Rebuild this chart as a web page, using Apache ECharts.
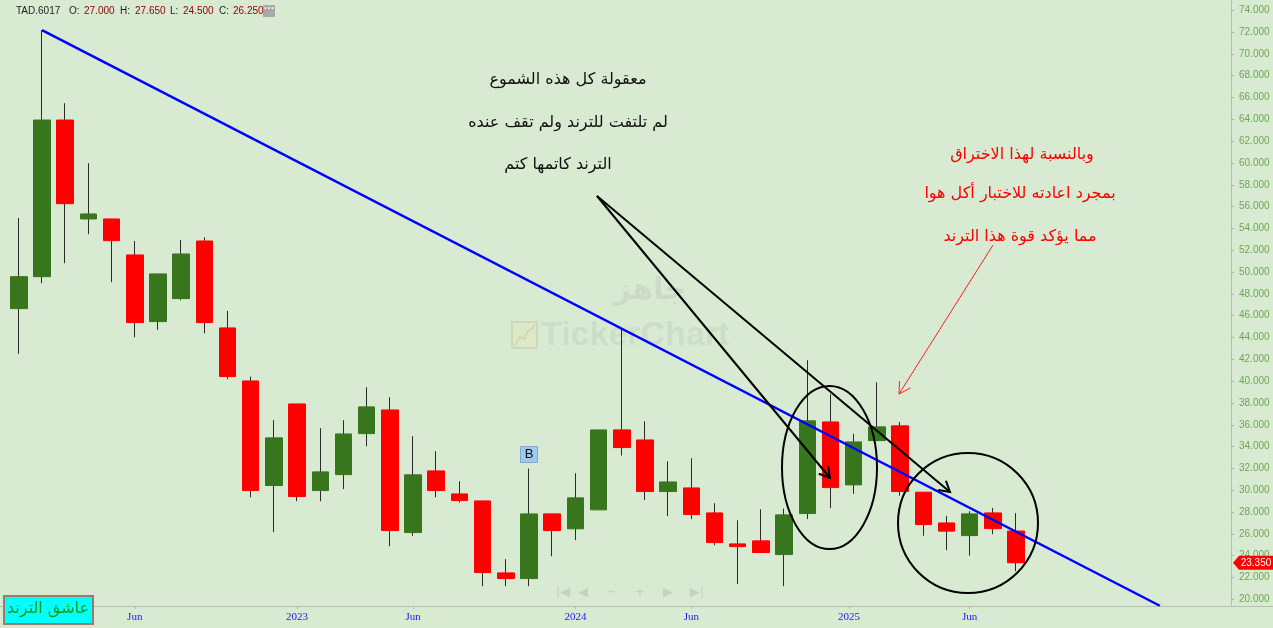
<!DOCTYPE html>
<html>
<head>
<meta charset="utf-8">
<script src="https://cdn.jsdelivr.net/npm/echarts@6/dist/echarts.min.js"></script>
<style>
html,body{margin:0;padding:0;background:#D9EAD3;}
#c{width:1273px;height:628px;}
</style>
</head>
<body>
<div id="c"></div>
<script>
// ---- data (monthly candles, TAD.6017) ----
const months = ['2022-01','2022-02','2022-03','2022-04','2022-05','2022-06','2022-07','2022-08','2022-09','2022-10','2022-11','2022-12',
  '2023-01','2023-02','2023-03','2023-04','2023-05','2023-06','2023-07','2023-08','2023-09','2023-10','2023-11','2023-12',
  '2024-01','2024-02','2024-03','2024-04','2024-05','2024-06','2024-07','2024-08','2024-09','2024-10','2024-11','2024-12',
  '2025-01','2025-02','2025-03','2025-04','2025-05','2025-06','2025-07','2025-08'];
const opens  = [46.65,49.58,63.94,54.87,54.87,51.57,45.46,47.57,52.85,44.88,40.02,30.43,
  37.91,29.97,31.43,35.19,37.36,26.12,31.77,29.66,29.02,22.42,21.90,27.83,
  26.46,28.20,35.53,34.61,29.88,30.21,27.92,25.08,25.36,24.10,27.86,36.26,
  30.49,34.55,35.90,29.82,27.00,25.84,27.92,26.26];
const closes = [49.58,63.94,56.27,55.33,52.88,45.37,49.83,51.66,45.37,40.42,29.97,34.80,
  29.42,31.68,35.16,37.64,26.30,31.41,29.97,29.05,22.45,21.90,27.83,26.30,
  29.30,35.53,33.91,29.88,30.76,27.77,25.20,24.83,24.29,27.74,36.36,30.24,
  34.43,35.81,29.88,26.85,26.25,27.83,26.48,23.35];
const lows   = [42.50,48.98,50.81,53.47,49.07,44.03,44.70,47.42,44.39,40.18,29.36,26.15,
  28.99,28.99,30.10,34.04,24.87,25.82,29.36,28.87,21.20,21.20,21.20,23.95,
  25.42,28.20,33.18,29.09,27.62,27.35,24.96,21.39,24.23,21.20,27.35,28.35,
  29.67,34.50,29.50,25.82,24.50,24.00,25.97,22.58];
const highs  = [54.96,72.19,65.48,59.98,54.87,52.85,49.83,52.95,53.19,46.44,40.42,36.42,
  37.91,35.69,36.42,39.44,38.53,34.95,33.58,30.83,29.02,23.68,31.99,27.83,
  31.56,35.53,44.85,36.33,32.66,32.94,28.81,27.25,28.26,28.32,41.92,38.80,
  35.17,39.90,36.26,29.82,27.65,28.08,28.38,27.90];
const xTickIdx    = [5, 12, 17, 24, 29, 35.8, 41];
const xTickLabels = ['Jun','2023','Jun','2024','Jun','2025','Jun'];
const yTicks = [20,22,24,26,28,30,32,34,36,38,40,42,44,46,48,50,52,54,56,58,60,62,64,66,68,70,72,74];
const trendX = [1, 49.2];
const trendY = [72.19, 19.41];
const lastClose = 23.35;
const header = {sym:'TAD.6017', o:'27.000', h:'27.650', l:'24.500', c:'26.250'};
const signalIdx = 22; // "B" marker candle

// ---- build series ----
const wickData = months.map((m,i)=>[i, opens[i], closes[i], lows[i], highs[i]]);
const bodyData = months.map((m,i)=>[i, opens[i], closes[i], Math.min(opens[i],closes[i]), Math.max(opens[i],closes[i])]);
const trendData = trendX.map((x,i)=>[x, trendY[i]]);

const chart = echarts.init(document.getElementById('c'));
const GREEN = '#38761d', RED = '#ff0000', WICK = '#2b2b2b';

const option = {
  animation:false,
  backgroundColor:'#D9EAD3',
  grid:{left:0, right:42, top:0, bottom:22},
  xAxis:{
    type:'value', min:-0.8107, max:52.27,
    axisLine:{show:true, onZero:false, lineStyle:{color:'#b5bfb2', width:1}},
    splitLine:{show:false},
    axisTick:{show:true, customValues:xTickIdx, length:3, lineStyle:{color:'#b5bfb2'}},
    axisLabel:{customValues:xTickIdx, formatter:v=>{const k=xTickIdx.findIndex(t=>Math.abs(t-v)<0.01);return k>=0?xTickLabels[k]:'';},
      color:'#1a1aff', fontFamily:'Liberation Serif', fontSize:11, margin:6}
  },
  yAxis:{
    type:'value', position:'right', min:19.386, max:74.944,
    axisLine:{show:true, onZero:false, lineStyle:{color:'#b9b9b9'}},
    splitLine:{show:false},
    axisTick:{show:true, customValues:yTicks, length:3, lineStyle:{color:'#b0b0b0'}},
    axisLabel:{customValues:yTicks, formatter:v=>v.toFixed(3), color:'#6aa84f',
      fontFamily:'Liberation Sans', fontSize:10, margin:8}
  },
  series:[
    {type:'candlestick', name:'wick', data:wickData, encode:{x:0,y:[1,2,3,4]}, barWidth:1,
      itemStyle:{color:WICK,color0:WICK,borderColor:WICK,borderColor0:WICK,borderWidth:1}, z:2},
    {type:'candlestick', name:'body', data:bodyData, encode:{x:0,y:[1,2,3,4]}, barWidth:17,
      itemStyle:{color:GREEN,color0:RED,borderColor:GREEN,borderColor0:RED,borderWidth:1}, z:3},
    {type:'line', name:'trend', data:trendData, symbol:'none', lineStyle:{color:'#0000ff', width:2.5}, z:4}
  ]
};
chart.setOption(option);

// ---- annotations (layout) ----
function T(x,y,text,font,fill,align,z){
  return {type:'text', z:z||100, style:{x,y,text,font,fill,
    align:align||'left', textAlign:align||'left', verticalAlign:'middle', textVerticalAlign:'middle'}};
}
function arrow(x1,y1,x2,y2,color,w,L){
  const a=Math.atan2(y2-y1,x2-x1), t=Math.PI/6;
  return [
    {type:'line', z:90, shape:{x1,y1,x2,y2}, style:{stroke:color,lineWidth:w}},
    {type:'polyline', z:90, shape:{points:[[x2-L*Math.cos(a-t),y2-L*Math.sin(a-t)],[x2,y2],[x2-L*Math.cos(a+t),y2-L*Math.sin(a+t)]]},
      style:{stroke:color,lineWidth:w,fill:null}}
  ];
}
const yPx = chart.convertToPixel({gridIndex:0},[0,lastClose])[1];
const bPt = chart.convertToPixel({gridIndex:0},[signalIdx, highs[signalIdx]]);
const AR = "'DejaVu Sans'";
const G = [];
// watermark
G.push(T(650,291,'جاهز',"bold 30px "+AR,'rgba(110,120,110,0.13)','center',1));
G.push({type:'rect', z:1, shape:{x:512,y:322,width:25,height:26}, style:{fill:'rgba(230,230,170,0.3)',stroke:'rgba(120,130,120,0.15)',lineWidth:2}});
G.push({type:'polyline', z:1, shape:{points:[[515,345],[520,337],[524,339],[528,331],[532,329],[535,324]]}, style:{stroke:'rgba(120,130,120,0.18)',lineWidth:1.5,fill:null}});
G.push(T(541,336,'TickerChart',"bold 34px 'Liberation Sans'",'rgba(110,120,110,0.1)','left',1));
// nav controls
[['|◀',563],['◀',583],['−',611],['+',640],['▶',668],['▶|',697]].forEach(([s,x])=>{
  G.push(T(x,593,s,"13px 'DejaVu Sans'",'rgba(150,160,150,0.3)','center',1));
});
// header
const HF = "10px 'Liberation Sans'";
G.push(T(16,11,header.sym,HF,'#222'));
G.push(T(69,11,'O:',HF,'#222'));
G.push(T(84,11,header.o,HF,'#8b0000'));
G.push(T(120,11,'H:',HF,'#222'));
G.push(T(135,11,header.h,HF,'#8b0000'));
G.push(T(170,11,'L:',HF,'#222'));
G.push(T(183,11,header.l,HF,'#8b0000'));
G.push(T(219,11,'C:',HF,'#222'));
G.push(T(233,11,header.c,HF,'#8b0000'));
G.push({type:'rect', z:100, shape:{x:263,y:5,width:12,height:12}, style:{fill:'#a9a9a9'}});
G.push(T(269,9,'···',"bold 9px 'DejaVu Sans'",'#fff','center',101));
// black text
const AF = "16px "+AR;
G.push(T(568,80,'معقولة كل هذه الشموع',AF,'#111','center'));
G.push(T(568,123,'لم تلتفت للترند ولم تقف عنده',AF,'#111','center'));
G.push(T(558,165,'الترند كاتمها كتم',AF,'#111','center'));
// red text
G.push(T(1022,155,'وبالنسبة لهذا الاختراق',AF,'#ff0000','center'));
G.push(T(1020,194,'بمجرد اعادته للاختبار أكل هوا',AF,'#ff0000','center'));
G.push(T(1020,237,'مما يؤكد قوة هذا الترند',AF,'#ff0000','center'));
// arrows
G.push(...arrow(597,196,830,478,'#000',2,12));
G.push(...arrow(597,196,950,492,'#000',2,12));
G.push(...arrow(993,245,899,394,'#ff2020',1,13));
// ellipses
G.push({type:'ellipse', z:90, shape:{cx:829.5,cy:467.5,rx:47.5,ry:81.5}, style:{stroke:'#000',lineWidth:2,fill:null}});
G.push({type:'ellipse', z:90, shape:{cx:968,cy:523,rx:70,ry:70}, style:{stroke:'#000',lineWidth:2,fill:null}});
// B marker
G.push({type:'rect', z:95, shape:{x:bPt[0]-8.5,y:bPt[1]-22,width:17,height:16}, style:{fill:'#9fc9ee',stroke:'#7ea9cf',lineWidth:1}});
G.push(T(bPt[0],bPt[1]-14,'B',"13px 'Liberation Sans'",'#111','center',96));
// bottom line extension
G.push({type:'line', z:5, shape:{x1:1231,y1:606.5,x2:1273,y2:606.5}, style:{stroke:'#b5bfb2',lineWidth:1}});
// price tag
G.push({type:'polygon', z:110, shape:{points:[[1233,yPx],[1239,yPx-7],[1273,yPx-7],[1273,yPx+7],[1239,yPx+7]]}, style:{fill:'#ff0000'}});
G.push(T(1256,yPx,lastClose.toFixed(3),"10px 'Liberation Sans'",'#fff','center',111));
// badge
G.push({type:'rect', z:120, shape:{x:4,y:596,width:89,height:28}, style:{fill:'#00ffff',stroke:'#9a7b6e',lineWidth:2}});
G.push(T(48,609,'عاشق الترند',"16px "+AR,'#1a9a1a','center',121));

chart.setOption({graphic:{elements:G}});
</script>
</body>
</html>
